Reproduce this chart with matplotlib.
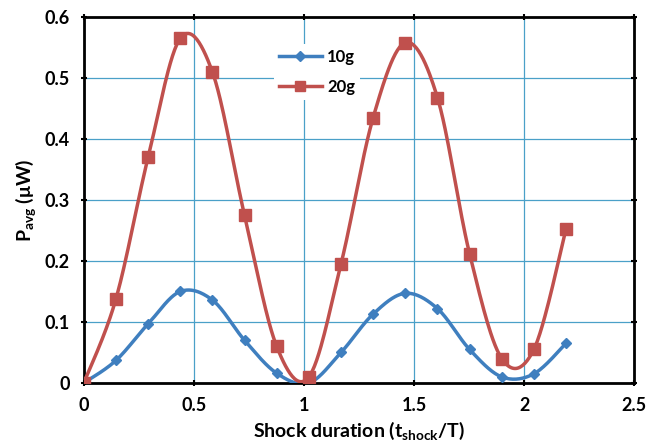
import numpy as np
import matplotlib
matplotlib.use("Agg")
import matplotlib.pyplot as plt
from matplotlib.lines import Line2D

x_vals = [0.0, 0.146, 0.292, 0.438, 0.584, 0.73, 0.876, 1.022, 1.168, 1.314,
          1.46, 1.606, 1.752, 1.898, 2.044, 2.19]
p10g = [0.0, 0.037, 0.097, 0.150, 0.136, 0.070, 0.016, 0.0, 0.050, 0.113,
        0.147, 0.122, 0.055, 0.010, 0.015, 0.065]
p20g = [0.0, 0.138, 0.370, 0.565, 0.510, 0.275, 0.060, 0.010, 0.195, 0.435,
        0.558, 0.468, 0.212, 0.040, 0.055, 0.252]
x_ticks = [0, 0.5, 1, 1.5, 2, 2.5]
y_ticks = [0, 0.1, 0.2, 0.3, 0.4, 0.5, 0.6]
x_ticklabels = ["0", "0.5", "1", "1.5", "2", "2.5"]
y_ticklabels = ["0", "0.1", "0.2", "0.3", "0.4", "0.5", "0.6"]

def smooth(xs, ys, n=30):
    # Excel-like Bezier smoothing for rendering the curve between data points
    xs = np.asarray(xs, float); ys = np.asarray(ys, float)
    P = np.column_stack([xs, ys])
    out = []
    for i in range(len(P) - 1):
        p0 = P[i - 1] if i > 0 else P[i]
        p1 = P[i]; p2 = P[i + 1]
        p3 = P[i + 2] if i + 2 < len(P) else P[i + 1]
        c1 = p1 + (p2 - p0) / 6.0
        c2 = p2 - (p3 - p1) / 6.0
        t = np.linspace(0, 1, n)[:, None]
        seg = ((1 - t) ** 3) * p1 + 3 * ((1 - t) ** 2) * t * c1 + 3 * (1 - t) * t ** 2 * c2 + t ** 3 * p2
        out.append(seg if i == 0 else seg[1:])
    a = np.vstack(out)
    return a[:, 0], a[:, 1]

plt.rcParams['font.family'] = ['Lato', 'DejaVu Sans']
fig = plt.figure(figsize=(6.6, 4.42), dpi=100)
ax = fig.add_axes([0.127, 0.1335, 0.834, 0.828])

blue = "#3f7fbf"
red = "#c0504d"
grid_c = "#4aa0c8"

sx, sy = smooth(x_vals, p10g)
ax.plot(sx, sy, color=blue, lw=2.5, zorder=3)
ax.plot(x_vals, p10g, linestyle="none", marker="D", ms=5, color=blue, zorder=4)
sx, sy = smooth(x_vals, p20g)
ax.plot(sx, sy, color=red, lw=2.5, zorder=3)
ax.plot(x_vals, p20g, linestyle="none", marker="s", ms=8, color=red, zorder=4)

ax.set_xlim(0, 2.5)
ax.set_ylim(0, 0.6)
ax.set_xticks(x_ticks)
ax.set_xticklabels(x_ticklabels)
ax.set_yticks(y_ticks)
ax.set_yticklabels(y_ticklabels)
ax.grid(True, color=grid_c, lw=0.9)
ax.set_axisbelow(True)
for s in ax.spines.values():
    s.set_linewidth(2)
    s.set_color("black")
ax.tick_params(axis="both", labelsize=13, width=1.5, length=4, direction="inout",
               top=True, right=True, pad=8)
for lab in ax.get_xticklabels() + ax.get_yticklabels():
    lab.set_fontweight("bold")

ax.set_xlabel(r"Shock duration (t$_{\mathregular{shock}}$/T)", fontsize=14, fontweight="bold", labelpad=4)
ax.set_ylabel(r"P$_{\mathregular{avg}}$ ($\mathregular{\mu}$W)", fontsize=14, fontweight="bold", labelpad=4)

handles = [Line2D([0], [0], color=blue, lw=2.5, marker="D", ms=5),
           Line2D([0], [0], color=red, lw=2.5, marker="s", ms=7)]
leg = ax.legend(handles, ["10g", "20g"], loc="upper left", bbox_to_anchor=(0.33, 0.95),
                frameon=True, fontsize=12, handlelength=2.6, handletextpad=0.3,
                borderpad=0.3, labelspacing=0.85)
leg.get_frame().set_edgecolor("none")
leg.get_frame().set_facecolor("white")
leg.get_frame().set_alpha(1)
for t in leg.get_texts():
    t.set_fontweight("bold")

fig.savefig("out.png", dpi=100)
